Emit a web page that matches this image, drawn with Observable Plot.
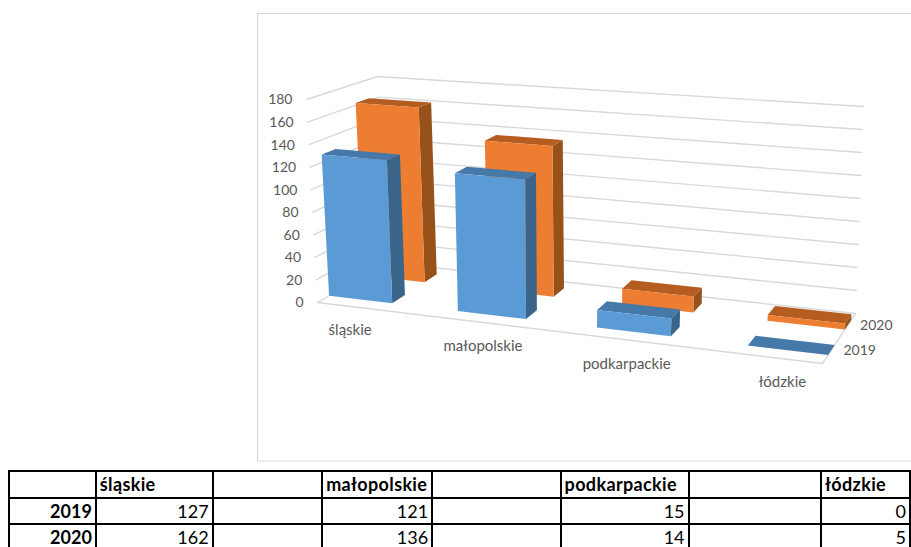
<!DOCTYPE html>
<html>
<head>
<meta charset="utf-8">
<script src="https://cdn.jsdelivr.net/npm/d3@7"></script>
<script src="https://cdn.jsdelivr.net/npm/@observablehq/plot@0.6"></script>
<style>
html,body{margin:0;padding:0;background:#fff;width:911px;height:547px;overflow:hidden}
#chart{position:absolute;left:0;top:0}
table{position:absolute;left:8px;top:470px;border-collapse:collapse;table-layout:fixed;font-family:Lato,Carlito,sans-serif;font-size:18px;color:#000}
td{border:2px solid #000;height:26.5px;padding:0 3px 0 2px;line-height:24px;white-space:nowrap;overflow:hidden;box-sizing:border-box}
td.h{font-weight:700;text-align:left;padding-left:3px;letter-spacing:.35px}
td.y{font-weight:700;text-align:right}
td.v{text-align:right}
</style>
</head>
<body>
<div id="chart"></div>
<div id="tbl"></div>
<script>
const categories = ["śląskie", "małopolskie", "podkarpackie", "łódzkie"];
const seriesNames = ["2019", "2020"];
const values2019 = [127, 121, 15, 0];
const values2020 = [162, 136, 14, 5];
const yTicks = [0, 20, 40, 60, 80, 100, 120, 140, 160, 180];
const yMax = 180;

// Perspective box (wall corners of the 3-D chart): floor and ceiling, front and back, left and right.
const box = {
  floor: {fl: [317, 302], fr: [822, 363], bl: [385, 262], br: [855, 313]},
  ceil:  {fl: [306, 99],  fr: [836, 141], bl: [377, 76],  br: [863, 106]}
};
const lerp = (a, b, t) => a + (b - a) * t;
function project(u, v, w) {
  const plane = (p, k) => lerp(lerp(p.fl[k], p.fr[k], u), lerp(p.bl[k], p.br[k], u), v);
  return [0, 1].map(k => lerp(plane(box.floor, k), plane(box.ceil, k), w));
}
// Category position (bar i covers i .. i+0.5) to box fraction, with foreshortening
const catU = t => { const s = t / 3.5; return s / (1.15 * (1 - s) + s); };
const depthBands = [[0.17, 0.37], [0.68, 0.87]];
const colors = [
  {front: "#5b9bd5", top: "#4678a8", side: "#3a6489"},
  {front: "#ed7d31", top: "#b55d20", side: "#97521c"}
];
const pt = (u, v, val) => { const [x, y] = project(u, v, val / yMax); return {x, y}; };

const marks = [];
const W = 911, H = 466;

// chart frame
marks.push(Plot.line([{x: W, y: 13}, {x: 257, y: 13}, {x: 257, y: 460.5}, {x: W, y: 460.5}],
  {x: "x", y: "y", stroke: "#d9d9d9", strokeWidth: 1.2}));

// gridlines: side wall then back wall
for (const t of yTicks) {
  marks.push(Plot.line([pt(0, 0, t), pt(0, 1, t), pt(1, 1, t)],
    {x: "x", y: "y", stroke: "#d9d9d9", strokeWidth: 1.4}));
}
// floor edges
marks.push(Plot.line([pt(0, 0, 0), pt(1, 0, 0), pt(1, 1, 0)],
  {x: "x", y: "y", stroke: "#d9d9d9", strokeWidth: 1.4}));

// bars, back series first
[values2020, values2019].forEach((vals, idx) => {
  const s = 1 - idx;
  const [v0, v1] = depthBands[s];
  const c = colors[s];
  vals.forEach((val, i) => {
    const u0 = catU(i), u1 = catU(i + 0.5);
    const faces = [
      [c.side, [pt(u1, v0, 0), pt(u1, v1, 0), pt(u1, v1, val), pt(u1, v0, val)]],
      [c.top, [pt(u0, v0, val), pt(u1, v0, val), pt(u1, v1, val), pt(u0, v1, val)]],
      [c.front, [pt(u0, v0, 0), pt(u1, v0, 0), pt(u1, v0, val), pt(u0, v0, val)]]
    ];
    for (const [fill, poly] of faces) {
      marks.push(Plot.line([...poly, poly[0]], {x: "x", y: "y", fill, stroke: "none"}));
    }
  });
});

const labelFont = {fontFamily: "Lato, Carlito, sans-serif", fill: "#595959", fontSize: 14};
// value axis labels
marks.push(Plot.text(yTicks.map(t => ({...pt(0, 0, t), t})), {
  x: "x", y: "y", text: d => String(d.t), textAnchor: "end", dx: -14, dy: 0.5, ...labelFont
}));
// category labels
marks.push(Plot.text(categories.map((name, i) => ({...pt(catU(i + 0.25), 0, 0), name})), {
  x: "x", y: "y", text: "name", dx: 1, dy: 24, ...labelFont, fontSize: 15
}));
// series labels
marks.push(Plot.text(seriesNames.map((name, s) => ({...pt(1, (depthBands[s][0] + depthBands[s][1]) / 2, 0), name})), {
  x: "x", y: "y", text: "name", textAnchor: "start", dx: 12, dy: 1, ...labelFont
}));

const plot = Plot.plot({
  width: W, height: H,
  margin: 0,
  x: {domain: [0, W], range: [0, W], axis: null},
  y: {domain: [0, H], range: [0, H], axis: null},
  marks
});
document.getElementById("chart").append(plot);

// data table under the chart
const colWidths = [87, 117, 110, 110, 129, 128, 133, 89];
const table = d3.select("#tbl").append("table");
const cg = table.append("colgroup");
colWidths.forEach(w => cg.append("col").style("width", w + "px"));
const head = table.append("tr");
head.append("td");
categories.forEach((c, i) => {
  head.append("td").attr("class", "h").text(c);
  if (i < categories.length - 1) head.append("td");
});
[values2019, values2020].forEach((vals, s) => {
  const r = table.append("tr");
  r.append("td").attr("class", "y").text(seriesNames[s]);
  vals.forEach((v, i) => {
    r.append("td").attr("class", "v").text(v);
    if (i < vals.length - 1) r.append("td");
  });
});
</script>
</body>
</html>
